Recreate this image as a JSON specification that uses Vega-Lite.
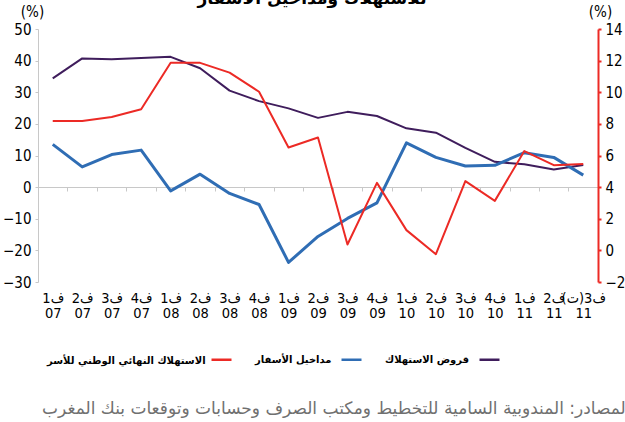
{
  "$schema": "https://vega.github.io/schema/vega-lite/v6.json",
  "width": 560,
  "height": 253,
  "autosize": {"type": "none"},
  "padding": {"left": 38, "top": 29, "right": 27, "bottom": 140},
  "background": "white",
  "title": {
    "text": "للاستهلاك ومداخيل الأسفار",
    "font": "DejaVu Sans",
    "fontSize": 17,
    "fontWeight": "bold",
    "color": "#000000",
    "anchor": "middle",
    "baseline": "bottom",
    "offset": -21,
    "dx": -6
  },
  "config": {
    "view": {"stroke": null},
    "font": "Liberation Sans Narrow, DejaVu Sans Condensed, sans-serif"
  },
  "datasets": {
    "left": [
      {"q": "ف1|07", "series": "قروض الاستهلاك", "value": 34.4},
      {"q": "ف2|07", "series": "قروض الاستهلاك", "value": 40.7},
      {"q": "ف3|07", "series": "قروض الاستهلاك", "value": 40.4},
      {"q": "ف4|07", "series": "قروض الاستهلاك", "value": 40.8},
      {"q": "ف1|08", "series": "قروض الاستهلاك", "value": 41.2},
      {"q": "ف2|08", "series": "قروض الاستهلاك", "value": 37.6},
      {"q": "ف3|08", "series": "قروض الاستهلاك", "value": 30.5},
      {"q": "ف4|08", "series": "قروض الاستهلاك", "value": 27.2},
      {"q": "ف1|09", "series": "قروض الاستهلاك", "value": 24.9},
      {"q": "ف2|09", "series": "قروض الاستهلاك", "value": 21.9},
      {"q": "ف3|09", "series": "قروض الاستهلاك", "value": 23.8},
      {"q": "ف4|09", "series": "قروض الاستهلاك", "value": 22.5},
      {"q": "ف1|10", "series": "قروض الاستهلاك", "value": 18.6},
      {"q": "ف2|10", "series": "قروض الاستهلاك", "value": 17.2},
      {"q": "ف3|10", "series": "قروض الاستهلاك", "value": 12.4},
      {"q": "ف4|10", "series": "قروض الاستهلاك", "value": 8.0},
      {"q": "ف1|11", "series": "قروض الاستهلاك", "value": 7.2},
      {"q": "ف2|11", "series": "قروض الاستهلاك", "value": 5.6},
      {"q": "ف3(ت)|11", "series": "قروض الاستهلاك", "value": 7.0},
      {"q": "ف1|07", "series": "مداخيل الأسفار", "value": 13.5},
      {"q": "ف2|07", "series": "مداخيل الأسفار", "value": 6.4},
      {"q": "ف3|07", "series": "مداخيل الأسفار", "value": 10.3},
      {"q": "ف4|07", "series": "مداخيل الأسفار", "value": 11.7},
      {"q": "ف1|08", "series": "مداخيل الأسفار", "value": -1.2},
      {"q": "ف2|08", "series": "مداخيل الأسفار", "value": 4.1},
      {"q": "ف3|08", "series": "مداخيل الأسفار", "value": -2.0},
      {"q": "ف4|08", "series": "مداخيل الأسفار", "value": -5.5},
      {"q": "ف1|09", "series": "مداخيل الأسفار", "value": -23.8},
      {"q": "ف2|09", "series": "مداخيل الأسفار", "value": -15.6},
      {"q": "ف3|09", "series": "مداخيل الأسفار", "value": -9.9},
      {"q": "ف4|09", "series": "مداخيل الأسفار", "value": -5.0},
      {"q": "ف1|10", "series": "مداخيل الأسفار", "value": 14.0},
      {"q": "ف2|10", "series": "مداخيل الأسفار", "value": 9.4},
      {"q": "ف3|10", "series": "مداخيل الأسفار", "value": 6.7},
      {"q": "ف4|10", "series": "مداخيل الأسفار", "value": 6.9},
      {"q": "ف1|11", "series": "مداخيل الأسفار", "value": 10.9},
      {"q": "ف2|11", "series": "مداخيل الأسفار", "value": 9.4},
      {"q": "ف3(ت)|11", "series": "مداخيل الأسفار", "value": 3.8}
    ],
    "right": [
      {"q": "ف1|07", "series": "الاستهلاك النهائي الوطني للأسر", "value": 8.18},
      {"q": "ف2|07", "series": "الاستهلاك النهائي الوطني للأسر", "value": 8.18},
      {"q": "ف3|07", "series": "الاستهلاك النهائي الوطني للأسر", "value": 8.43},
      {"q": "ف4|07", "series": "الاستهلاك النهائي الوطني للأسر", "value": 8.92},
      {"q": "ف1|08", "series": "الاستهلاك النهائي الوطني للأسر", "value": 11.86},
      {"q": "ف2|08", "series": "الاستهلاك النهائي الوطني للأسر", "value": 11.86},
      {"q": "ف3|08", "series": "الاستهلاك النهائي الوطني للأسر", "value": 11.24},
      {"q": "ف4|08", "series": "الاستهلاك النهائي الوطني للأسر", "value": 10.03},
      {"q": "ف1|09", "series": "الاستهلاك النهائي الوطني للأسر", "value": 6.51},
      {"q": "ف2|09", "series": "الاستهلاك النهائي الوطني للأسر", "value": 7.14},
      {"q": "ف3|09", "series": "الاستهلاك النهائي الوطني للأسر", "value": 0.37},
      {"q": "ف4|09", "series": "الاستهلاك النهائي الوطني للأسر", "value": 4.27},
      {"q": "ف1|10", "series": "الاستهلاك النهائي الوطني للأسر", "value": 1.28},
      {"q": "ف2|10", "series": "الاستهلاك النهائي الوطني للأسر", "value": -0.24},
      {"q": "ف3|10", "series": "الاستهلاك النهائي الوطني للأسر", "value": 4.38},
      {"q": "ف4|10", "series": "الاستهلاك النهائي الوطني للأسر", "value": 3.13},
      {"q": "ف1|11", "series": "الاستهلاك النهائي الوطني للأسر", "value": 6.28},
      {"q": "ف2|11", "series": "الاستهلاك النهائي الوطني للأسر", "value": 5.39},
      {"q": "ف3(ت)|11", "series": "الاستهلاك النهائي الوطني للأسر", "value": 5.46}
    ]
  },
  "layer": [
    {
      "data": {"name": "left"},
      "mark": {"type": "line", "strokeJoin": "round"},
      "encoding": {
        "x": {
          "field": "q", "type": "ordinal", "sort": null,
          "scale": {"type": "point", "padding": 0.5},
          "axis": {
            "orient": "bottom",
            "domain": false,
            "ticks": false,
            "labelAngle": 0,
            "labelExpr": "split(datum.value, '|')",
            "labelFontSize": 14.5,
            "labelLineHeight": 15.5,
            "labelPadding": 9,
            "labelBaseline": "top",
            "labelColor": "#000000",
            "title": "المصادر: المندوبية السامية للتخطيط ومكتب الصرف وحسابات وتوقعات بنك المغرب",
            "titleFont": "DejaVu Sans",
            "titleFontSize": 17,
            "titleFontWeight": "normal",
            "titleColor": "#707070",
            "titleAlign": "right",
            "titleAnchor": null,
            "titleBaseline": "middle",
            "titleX": 592,
            "titleY": 126
          }
        },
        "y": {
          "field": "value", "type": "quantitative",
          "scale": {"domain": [-30, 50], "nice": false, "zero": false},
          "axis": {
            "orient": "left",
            "values": [-30, -20, -10, 0, 10, 20, 30, 40, 50],
            "grid": false,
            "domainColor": "#c8c8c8",
            "tickColor": "#c8c8c8",
            "tickSize": 3,
            "labelFontSize": 15,
            "labelColor": "#000000",
            "labelPadding": 4,
            "title": "(%)",
            "titleAngle": 0,
            "titleAlign": "center",
            "titleBaseline": "bottom",
            "titleX": -6,
            "titleY": -10,
            "titleFontSize": 15,
            "titleFontWeight": "normal",
            "titleColor": "#000000"
          }
        },
        "color": {
          "field": "series", "type": "nominal",
          "scale": {
            "domain": ["الاستهلاك النهائي الوطني للأسر", "مداخيل الأسفار", "قروض الاستهلاك"],
            "range": ["#ec2a25", "#2f6db4", "#3f1d5c"]
          },
          "legend": {
            "orient": "none",
            "legendX": 9,
            "legendY": 319,
            "direction": "horizontal",
            "title": "الاستهلاك النهائي الوطني للأسر",
            "titleOrient": "left",
            "titleFont": "DejaVu Sans",
            "titleFontSize": 10,
            "titleFontWeight": "bold",
            "titleColor": "#000000",
            "titleBaseline": "top",
            "titlePadding": 4,
            "titleLimit": 400,
            "symbolType": "stroke",
            "symbolSize": 400,
            "symbolStrokeWidth": 2.5,
            "labelExpr": "datum.label === 'الاستهلاك النهائي الوطني للأسر' ? 'مداخيل الأسفار' : datum.label === 'مداخيل الأسفار' ? 'قروض الاستهلاك' : ''",
            "labelOffset": 22,
            "labelFont": "DejaVu Sans",
            "labelFontSize": 10,
            "labelFontWeight": "bold",
            "labelColor": "#000000",
            "labelLimit": 400,
            "columnPadding": 4
          }
        },
        "strokeWidth": {
          "condition": {"test": "datum.series === 'مداخيل الأسفار'", "value": 3},
          "value": 2
        }
      }
    },
    {
      "data": {"name": "right"},
      "mark": {"type": "line", "strokeJoin": "round", "strokeWidth": 2},
      "encoding": {
        "x": {
          "field": "q", "type": "ordinal", "sort": null,
          "scale": {"type": "point", "padding": 0.5},
          "axis": {
            "orient": "bottom",
            "offset": -95,
            "labels": false,
            "domain": true,
            "domainColor": "#c8c8c8",
            "ticks": true,
            "tickColor": "#c8c8c8",
            "tickSize": 4,
            "tickOffset": 14.7,
            "title": null
          }
        },
        "y": {
          "field": "value", "type": "quantitative",
          "scale": {"domain": [-2, 14], "nice": false, "zero": false},
          "axis": {
            "orient": "right",
            "values": [-2, 0, 2, 4, 6, 8, 10, 12, 14],
            "grid": false,
            "domainColor": "#ec2a25",
            "domainWidth": 2,
            "tickColor": "#ec2a25",
            "tickWidth": 2,
            "tickSize": 3,
            "labelFontSize": 15,
            "labelColor": "#000000",
            "labelPadding": 4,
            "title": "(%)",
            "titleAngle": 0,
            "titleAlign": "center",
            "titleBaseline": "bottom",
            "titleX": 2,
            "titleY": -10,
            "titleFontSize": 15,
            "titleFontWeight": "normal",
            "titleColor": "#000000"
          }
        },
        "color": {"field": "series", "type": "nominal"}
      }
    }
  ],
  "resolve": {
    "scale": {"y": "independent"},
    "axis": {"x": "independent", "y": "independent"}
  }
}
